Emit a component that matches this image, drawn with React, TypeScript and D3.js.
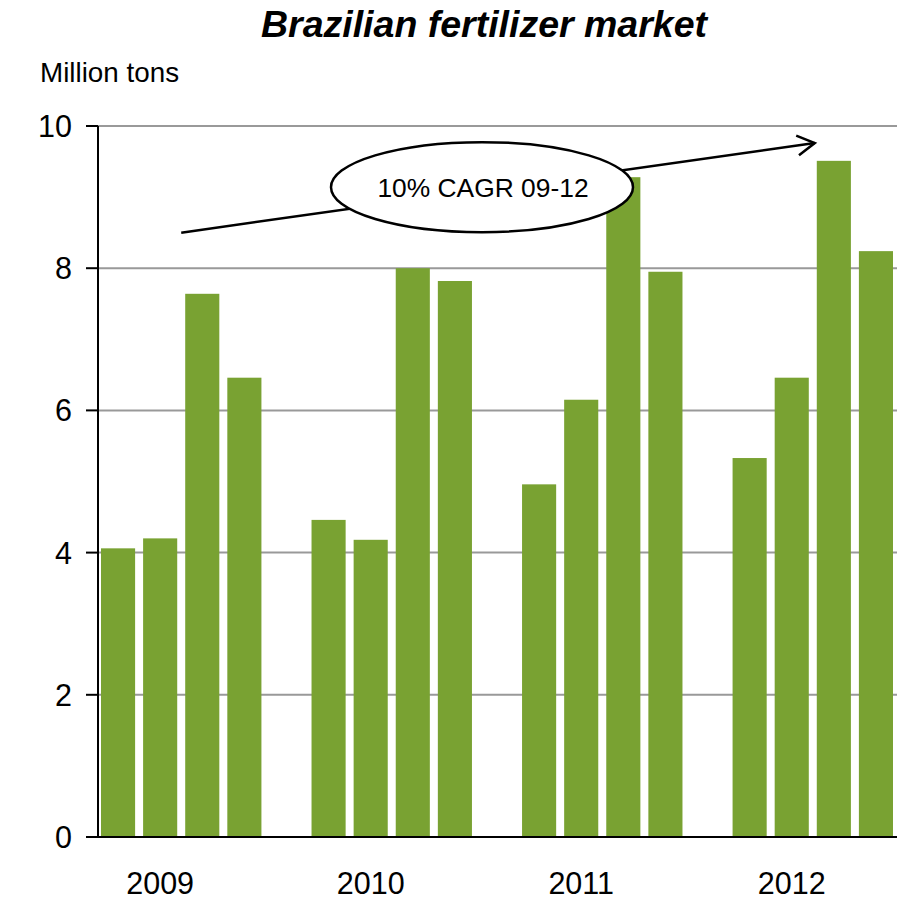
import React from "react";
import * as d3 from "d3";

const years = ["2009", "2010", "2011", "2012"];
const quarters = ["Q1", "Q2", "Q3", "Q4"];
const values2009 = [4.06, 4.2, 7.64, 6.46];
const values2010 = [4.46, 4.18, 8.0, 7.82];
const values2011 = [4.96, 6.15, 9.28, 7.95];
const values2012 = [5.33, 6.46, 9.51, 8.24];
const seriesByYear = [values2009, values2010, values2011, values2012];
const yTicks = [0, 2, 4, 6, 8, 10];
const title = "Brazilian fertilizer market";
const unitLabel = "Million tons";
const annotation = "10% CAGR 09-12";
const arrowStartValue = 8.5;
const arrowEndValue = 9.76;

const W = 897;
const H = 901;
const FONT = "'Liberation Sans', Arial, sans-serif";
const GREEN = "#79a232";

export default function App() {
  const slots: string[] = [];
  years.forEach((yr, i) => {
    quarters.forEach((q) => slots.push(`${yr}-${q}`));
    if (i < years.length - 1) slots.push(`gap-${i}`);
  });
  const x = d3
    .scaleBand<string>()
    .domain(slots)
    .range([97, 897])
    .paddingInner(0.19)
    .paddingOuter(0.095);
  const y = d3.scaleLinear().domain([0, 10]).range([837, 126]);
  const bw = x.bandwidth();
  const step = x.step();
  const axisX = 98;
  const right = 897;

  const groupCenter = (yr: string) => {
    const a = x(`${yr}-${quarters[0]}`)!;
    const b = x(`${yr}-${quarters[quarters.length - 1]}`)! + bw;
    return (a + b) / 2;
  };

  const ax0 = groupCenter(years[0]);
  const ay0 = y(arrowStartValue);
  const ax1 = groupCenter(years[years.length - 1]) + 2;
  const ay1 = y(arrowEndValue);
  const ang = Math.atan2(ay1 - ay0, ax1 - ax0);
  const headLen = 20;
  const headAng = 0.52;
  const h1 = [ax1 - headLen * Math.cos(ang - headAng), ay1 - headLen * Math.sin(ang - headAng)];
  const h2 = [ax1 - headLen * Math.cos(ang + headAng), ay1 - headLen * Math.sin(ang + headAng)];

  const ex = (ax0 + ax1) / 2 - 16;
  const ey = y(9.14);

  return (
    <svg
      width={W}
      height={H}
      style={{ position: "absolute", left: 0, top: 0, background: "#fff" }}
      fontFamily={FONT}
    >
      <rect x={0} y={0} width={W} height={H} fill="#fff" />
      <text x={484} y={37} textAnchor="middle" fontSize={37.5} fontWeight="bold" fontStyle="italic" fill="#000">
        {title}
      </text>
      <text x={40} y={82} fontSize={27.8} fill="#000">
        {unitLabel}
      </text>

      {yTicks
        .filter((t) => t > 0)
        .map((t) => (
          <line key={`g${t}`} x1={axisX} x2={right} y1={y(t)} y2={y(t)} stroke="#999" strokeWidth={2} />
        ))}

      {years.map((yr, gi) =>
        quarters.map((q, qi) => {
          const v = seriesByYear[gi][qi];
          return (
            <rect
              key={`${yr}-${q}`}
              x={x(`${yr}-${q}`)!}
              y={y(v)}
              width={bw}
              height={y(0) - y(v)}
              fill={GREEN}
            />
          );
        })
      )}

      <line x1={axisX} x2={axisX} y1={y(10)} y2={y(0)} stroke="#000" strokeWidth={2} />
      <line x1={86} x2={right} y1={y(0)} y2={y(0)} stroke="#000" strokeWidth={2} />
      {yTicks.map((t) => (
        <g key={`t${t}`}>
          <line x1={86} x2={axisX} y1={y(t)} y2={y(t)} stroke="#000" strokeWidth={2} />
          <text x={72} y={y(t)} dy="0.36em" textAnchor="end" fontSize={30.5} fill="#000">
            {t}
          </text>
        </g>
      ))}

      {years.map((yr) => (
        <text key={`l${yr}`} x={groupCenter(yr) - step / 2} y={894} textAnchor="middle" fontSize={30.5} fill="#000">
          {yr}
        </text>
      ))}

      <line x1={ax0} y1={ay0} x2={ax1} y2={ay1} stroke="#000" strokeWidth={2.5} />
      <polyline
        points={`${h1[0]},${h1[1]} ${ax1},${ay1} ${h2[0]},${h2[1]}`}
        fill="none"
        stroke="#000"
        strokeWidth={2.5}
      />
      <ellipse cx={ex} cy={ey} rx={151} ry={45} fill="#fff" stroke="#000" strokeWidth={2.5} />
      <text x={ex + 1} y={ey + 10} textAnchor="middle" fontSize={26.4} fill="#000">
        {annotation}
      </text>
    </svg>
  );
}
